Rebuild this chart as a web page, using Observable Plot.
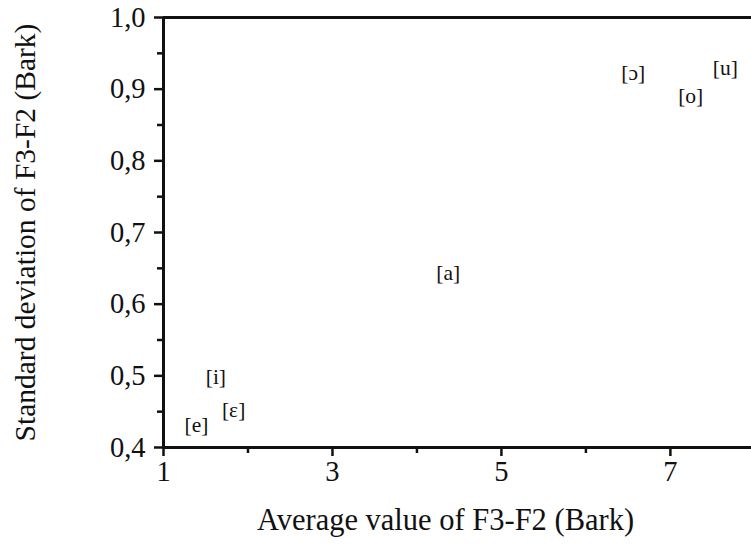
<!DOCTYPE html>
<html>
<head>
<meta charset="utf-8">
<script src="https://cdn.jsdelivr.net/npm/d3@7"></script>
<script src="https://cdn.jsdelivr.net/npm/@observablehq/plot@0.6"></script>
<style>
  html, body { margin: 0; padding: 0; background: #fff; }
  svg { display: block; }
</style>
</head>
<body>
<div id="chart"></div>
<script>
const vowels = ["[ɔ]", "[o]", "[u]", "[a]", "[i]", "[e]", "[ɛ]"];
const avgF3F2 = [6.56, 7.24, 7.65, 4.37, 1.62, 1.39, 1.83];
const sdF3F2 = [0.923, 0.891, 0.930, 0.643, 0.498, 0.431, 0.452];
const xTicks = [1, 3, 5, 7];
const xMinorTicks = [2, 4, 6];
const yTicks = [0.4, 0.5, 0.6, 0.7, 0.8, 0.9, 1.0];
const yMinorTicks = [0.45, 0.55, 0.65, 0.75, 0.85, 0.95];

const data = vowels.map((v, i) => ({vowel: v, x: avgF3F2[i], y: sdF3F2[i]}));
const comma = d => d.toFixed(1).replace(".", ",");
const serif = "'Liberation Serif', 'Times New Roman', serif";

const chart = Plot.plot({
  width: 751,
  height: 545,
  marginLeft: 163,
  marginRight: 0,
  marginTop: 17,
  marginBottom: 98,
  style: {fontFamily: serif, color: "#111", background: "#fff"},
  x: {domain: [1, 7.96]},
  y: {domain: [0.4, 1.0]},
  marks: [
    Plot.axisY(yTicks, {tickFormat: comma, tickSize: 9, tickPadding: 9, fontSize: 28.5, strokeWidth: 2.5,
      label: "Standard deviation of F3-F2 (Bark)", labelAnchor: "center", labelArrow: "none", labelOffset: 149}),
    Plot.axisY(yMinorTicks, {tickFormat: () => "", tickSize: 6, strokeWidth: 2.5, label: null}),
    Plot.axisX(xTicks, {tickFormat: d => String(d), tickSize: 9, tickPadding: 4, fontSize: 28.5, strokeWidth: 2.5,
      label: "Average value of F3-F2 (Bark)", labelAnchor: "center", labelArrow: "none", labelOffset: 82}),
    Plot.axisX(xMinorTicks, {tickFormat: () => "", tickSize: 6, strokeWidth: 2.5, label: null}),
    Plot.ruleX([1], {stroke: "#111", strokeWidth: 3}),
    Plot.ruleY([0.4], {stroke: "#111", strokeWidth: 3}),
    Plot.ruleY([1.0], {stroke: "#111", strokeWidth: 3}),
    Plot.text(data, {x: "x", y: "y", text: "vowel", fontSize: 21.5, fontFamily: serif, fill: "#111"})
  ]
});
chart.querySelectorAll("[aria-label='x-axis label'] text").forEach(t => {
  t.style.fontSize = "30.5px";
  t.setAttribute("dx", -12);
});
chart.querySelectorAll("[aria-label='y-axis label'] text").forEach(t => {
  t.style.fontSize = "29.5px";
});
document.getElementById("chart").appendChild(chart);
</script>
</body>
</html>
